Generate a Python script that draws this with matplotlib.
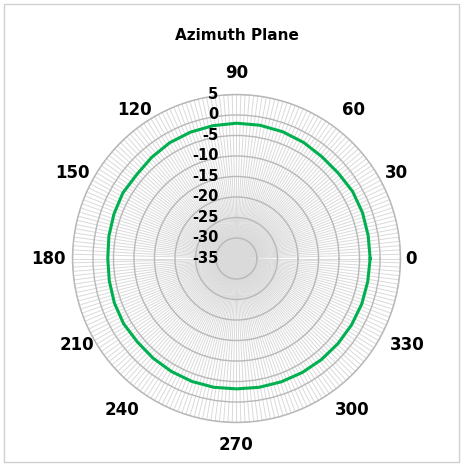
import numpy as np
import matplotlib
matplotlib.use("Agg")
import matplotlib.pyplot as plt
from matplotlib.patches import Rectangle

# azimuth pattern, dB, read every 10 degrees
angles_deg = list(range(0, 360, 10))
gain_db = [-2.4, -2.4, -2.3, -2.3, -2.6, -2.6, -2.3, -2.1, -2.0,
           -2.0, -2.1, -2.2, -2.4, -2.8, -3.2, -3.0, -3.2, -3.4,
           -3.6, -3.5, -3.3, -3.2, -3.4, -3.3, -3.2, -3.1, -3.1,
           -3.2, -3.1, -3.0, -2.9, -2.8, -2.7, -2.6, -2.5, -2.5]
angle_labels = ["0", "30", "60", "90", "120", "150", "180", "210", "240", "270", "300", "330"]
r_ticks = [-35, -30, -25, -20, -15, -10, -5, 0, 5]

# where the category labels sit (direction in deg, distance from centre in px)
label_dir = [0, 28.2, 51.6, 90, 124.6, 152.5, 180, 208.5, 232.9, 270, 307.3, 333.1]
label_dist = [174.5, 181, 189, 185.5, 180.5, 185.4, 188.5, 181.4, 190, 186.5, 190.5, 191]

W, H = 463, 466
fig = plt.figure(figsize=(W / 100, H / 100), dpi=100)
fig.patches.append(Rectangle((4 / W, 4 / H), 1 - 8 / W, 1 - 8 / H, transform=fig.transFigure,
                             fill=False, edgecolor="#d0d0d0", linewidth=1.0))

cx, cy, R = 236.5, 258.5, 164
ax = fig.add_axes([(cx - R) / W, 1 - (cy + R) / H, 2 * R / W, 2 * R / H], projection="polar")
ax.set_ylim(-35, 5)

# spokes every 1.5 deg
ax.set_xticks(np.radians(np.arange(0, 360, 1.5)), minor=True)
ax.set_xticks(np.radians(np.arange(0, 360, 30)))
ax.set_xticklabels([])
ax.grid(which="minor", axis="x", color="#dadada", linewidth=0.7)
ax.grid(which="major", axis="x", color="#dadada", linewidth=0.7)

ax.set_yticks(r_ticks)
ax.set_yticklabels([])
ax.grid(axis="y", color="#b8b8b8", linewidth=1.0)
ax.spines["polar"].set_color("#b8b8b8")
ax.spines["polar"].set_linewidth(1.0)

for r in r_ticks:
    ax.annotate(str(r), xy=(np.pi / 2, r), xytext=(-13, 0), textcoords="offset points",
                ha="right", va="center", fontsize=10.5, fontweight="bold",
                annotation_clip=False)

for lab, d, dist in zip(angle_labels, label_dir, label_dist):
    a = np.radians(d)
    fig.text((cx + dist * np.cos(a)) / W, 1 - (cy - dist * np.sin(a)) / H, lab,
             ha="center", va="center", fontsize=12, fontweight="bold")

th = np.radians(angles_deg + [angles_deg[0]])
ax.plot(th, gain_db + [gain_db[0]], color="#00b050", linewidth=2.2)

fig.text(cx / W, 1 - 35 / H, "Azimuth Plane", ha="center", va="center",
         fontsize=11, fontweight="bold")

fig.savefig("out.png", dpi=100)
